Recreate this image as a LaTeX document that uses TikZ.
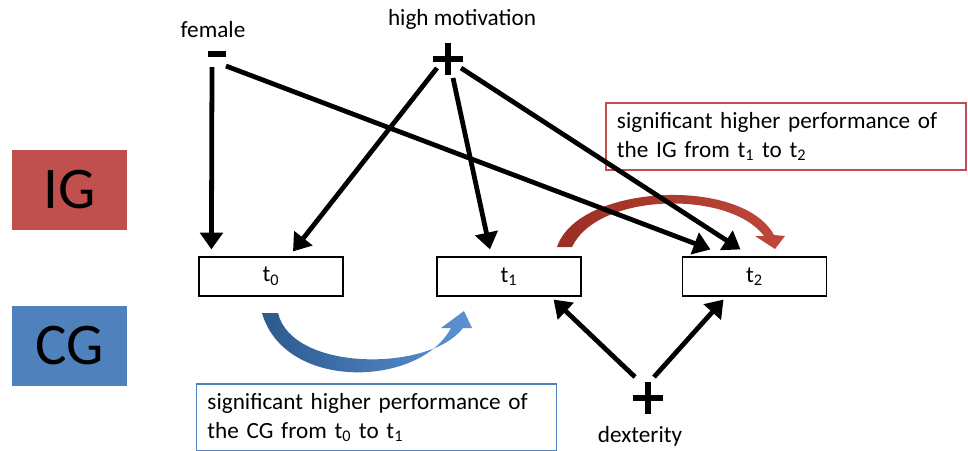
\documentclass[tikz,border=0pt]{standalone}
\usepackage{fontspec}
\setmainfont{Carlito}
\usetikzlibrary{arrows.meta}

\definecolor{igred}{HTML}{C0504D}
\definecolor{cgblue}{HTML}{4F81BD}
\definecolor{arcdark}{HTML}{9B2F24}
\definecolor{arclight}{HTML}{C0473A}
\definecolor{bluedark}{HTML}{2C5A8C}
\definecolor{bluelight}{HTML}{5C92D6}

\tikzset{
  groupbox/.style={minimum width=2.875cm, minimum height=2cm, inner sep=0pt,
    font=\fontsize{42}{42}\selectfont},
  timebox/.style={draw, line width=0.8pt, minimum width=3.6cm, minimum height=0.975cm,
    inner sep=0pt, font=\fontsize{16.5}{19}\selectfont},
  factor/.style={inner sep=0pt, font=\fontsize{16.5}{19}\selectfont},
  plussign/.style={inner sep=0pt, minimum size=0.8cm, path picture={
    \fill ([shift={(-15,-3)}]path picture bounding box.center)
      rectangle ([shift={(15,3)}]path picture bounding box.center);
    \fill ([shift={(-3,-16)}]path picture bounding box.center)
      rectangle ([shift={(3,16)}]path picture bounding box.center);}},
  minusbar/.style={fill, inner sep=0pt, minimum width=0.45cm, minimum height=0.14cm},
  note/.style={draw, line width=0.9pt, text width=8.45cm, inner xsep=0.275cm,
    minimum height=1.675cm, align=left, font=\fontsize{16.5}{20.5}\selectfont},
  cause/.style={line width=3.4pt, -{Triangle[length=12pt,width=16pt]}}
}

\begin{document}
\begin{tikzpicture}[x=0.025cm, y=-0.025cm]
  \useasboundingbox (0,0) rectangle (968,450);

  \node[groupbox, fill=igred] (ig) at (69.5,190) {IG};
  \node[groupbox, fill=cgblue] (cg) at (69.5,346) {CG};

  \node[timebox] (t0) at (271,276.5) {t\textsubscript{0}};
  \node[timebox] (t1) at (509,276.5) {t\textsubscript{1}};
  \node[timebox] (t2) at (754.5,276.5) {t\textsubscript{2}};

  \node[factor] (female) at (213,30) {female};
  \node[minusbar] (fminus) at (217,54) {};
  \node[factor] (motiv) at (462,19) {high motivation};
  \node[plussign] (mplus) at (448,59) {};
  \node[plussign] (dplus) at (648,398) {};
  \node[factor] (dext) at (640,436) {dexterity};

  \node[note, draw=igred] (ignote) at (786,136.5)
    {significant higher performance of\\the IG from t\textsubscript{1} to t\textsubscript{2}};
  \node[note, draw=cgblue] (cgnote) at (376.5,417.5)
    {significant higher performance of\\the CG from t\textsubscript{0} to t\textsubscript{1}};

  \shade[left color=arcdark, right color=arclight]
    (557,247) .. controls (578,184) and (742,176) .. (774,235)
    -- (785,236) -- (775,249) -- (755,236) -- (764,236)
    .. controls (730,190) and (598,192) .. (572,247) -- cycle;
  \shade[left color=bluedark, right color=bluelight]
    (262,313) .. controls (285,392) and (420,387) .. (451,328)
    -- (441,328) -- (464,311) -- (472,328) -- (463,328)
    .. controls (430,372) and (292,372) .. (278,313) -- cycle;

  \draw[cause] ([shift={(-5,13)}]fminus.center) -- ([shift={(13,-7)}]t0.north west);
  \draw[cause] ([shift={(9,12)}]fminus.center) -- ([shift={(-44,-7)}]t2.north);
  \draw[cause] ([shift={(-11,9)}]mplus.center) -- ([shift={(22,-5)}]t0.north);
  \draw[cause] ([shift={(5,19)}]mplus.center) -- ([shift={(-19,-7)}]t1.north);
  \draw[cause] ([shift={(13,9)}]mplus.center) -- ([shift={(-14,-7)}]t2.north);
  \draw[cause] ([shift={(-13,-21)}]dplus.center) -- ([shift={(-28,3)}]t1.south east);
  \draw[cause] ([shift={(6,-21)}]dplus.center) -- ([shift={(-31,3)}]t2.south);
\end{tikzpicture}
\end{document}
